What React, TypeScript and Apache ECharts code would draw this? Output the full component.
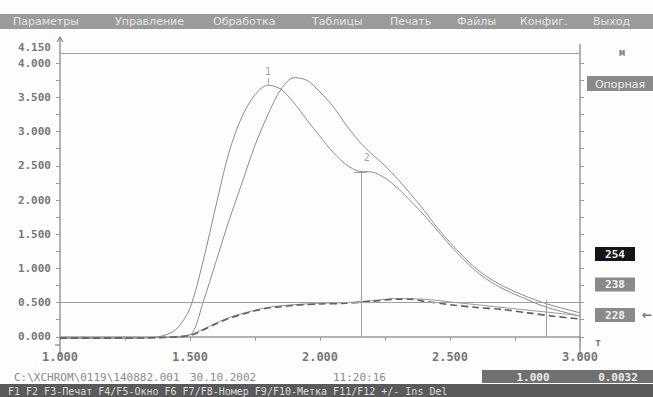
import React, { useEffect, useRef } from "react";
import * as echarts from "echarts";

// ---- data ----
const xTicks = [1.0, 1.5, 2.0, 2.5, 3.0];
const yLabelValues = [0, 0.5, 1.0, 1.5, 2.0, 2.5, 3.0, 3.5, 4.0];
const yTopLabel = [4.15];
const yTickValues = [0, 0.25, 0.5, 0.75, 1.0, 1.25, 1.5, 1.75, 2.0, 2.25, 2.5, 2.75, 3.0, 3.25, 3.5, 3.75, 4.0];
const xTickValues = [1.0, 1.25, 1.5, 1.75, 2.0, 2.25, 2.5, 2.75, 3.0];

const curve1: [number, number][] = [
  [1.0, -0.02], [1.2, -0.02], [1.35, -0.01], [1.4, 0.02], [1.45, 0.12], [1.5, 0.42], [1.55, 1.1],
  [1.6, 1.92], [1.65, 2.7], [1.7, 3.22], [1.75, 3.54], [1.8, 3.68], [1.85, 3.62], [1.9, 3.42],
  [1.95, 3.17], [2.0, 2.93], [2.05, 2.7], [2.1, 2.52], [2.15, 2.42], [2.2, 2.41], [2.25, 2.32],
  [2.3, 2.17], [2.35, 1.98], [2.4, 1.78], [2.45, 1.56], [2.5, 1.34], [2.55, 1.14], [2.6, 0.96],
  [2.65, 0.82], [2.7, 0.71], [2.75, 0.62], [2.8, 0.54], [2.85, 0.46], [2.9, 0.4], [2.95, 0.35], [3.0, 0.3],
];
const curve2: [number, number][] = [
  [1.0, -0.02], [1.2, -0.02], [1.4, -0.01], [1.47, 0.0], [1.51, 0.06], [1.55, 0.5], [1.6, 1.1],
  [1.65, 1.7], [1.7, 2.25], [1.75, 2.8], [1.8, 3.25], [1.85, 3.62], [1.9, 3.79], [1.95, 3.75],
  [2.0, 3.58], [2.05, 3.37], [2.1, 3.1], [2.15, 2.86], [2.2, 2.67], [2.25, 2.5], [2.3, 2.3],
  [2.35, 2.08], [2.4, 1.85], [2.45, 1.6], [2.5, 1.38], [2.55, 1.18], [2.6, 1.0], [2.65, 0.86],
  [2.7, 0.75], [2.75, 0.66], [2.8, 0.58], [2.85, 0.51], [2.9, 0.45], [2.95, 0.4], [3.0, 0.35],
];
const base1: [number, number][] = [
  [1.0, -0.02], [1.2, -0.02], [1.4, -0.01], [1.5, 0.02], [1.55, 0.1], [1.6, 0.19], [1.65, 0.27],
  [1.7, 0.33], [1.75, 0.38], [1.8, 0.42], [1.85, 0.44], [1.9, 0.46], [2.0, 0.48], [2.1, 0.49],
  [2.2, 0.52], [2.3, 0.55], [2.35, 0.55], [2.4, 0.52], [2.5, 0.47], [2.6, 0.43], [2.7, 0.4],
  [2.8, 0.35], [2.9, 0.3], [3.0, 0.26],
];
const base2: [number, number][] = [
  [1.0, -0.02], [1.4, -0.01], [1.5, 0.03], [1.55, 0.11], [1.6, 0.2], [1.65, 0.28], [1.7, 0.34],
  [1.8, 0.43], [1.9, 0.47], [2.0, 0.49], [2.1, 0.5], [2.2, 0.53], [2.3, 0.56], [2.4, 0.55],
  [2.5, 0.51], [2.6, 0.47], [2.7, 0.43], [2.8, 0.39], [2.9, 0.35], [3.0, 0.31],
];
const refLines = [0.5, 4.15];
const cursorX = [2.16, 2.87];
const cursorTop = [2.41, 0.54];
const peakLabels: [number, number, string][] = [[1.8, 3.88, "1"], [2.18, 2.62, "2"]];

const menuItems = ["Параметры", "Управление", "Обработка", "Таблицы", "Печать", "Файлы", "Конфиг.", "Выход"];
const menuX = [13, 115, 213, 312, 390, 457, 520, 593];
const sideValues = ["254", "238", "228"];

const MONO = "'DejaVu Sans Mono', monospace";

export default function App() {
  const ref = useRef<HTMLDivElement>(null);
  useEffect(() => {
    document.body.style.margin = "0";
    const chart = echarts.init(ref.current!, null, { renderer: "svg" });
    const lineColor = "#8c8c8c";
    const graphic: any[] = [
      { type: "rect", shape: { x: 0, y: 14, width: 653, height: 15 }, style: { fill: "#9b9b9b" }, z: -1 },
      ...menuItems.map((t, i) => ({
        type: "text", x: menuX[i], y: 21,
        style: { text: t, fill: "#e6e6e6", font: "11px 'DejaVu Sans'", verticalAlign: "middle" },
      })),
      // axis extensions
      { type: "line", shape: { x1: 60, y1: 38, x2: 60, y2: 53 }, style: { stroke: "#999", lineWidth: 1.5 } },
      { type: "line", shape: { x1: 60, y1: 345, x2: 60, y2: 356 }, style: { stroke: "#999", lineWidth: 1.5 } },
      { type: "polyline", shape: { points: [[57, 42], [60, 37], [63, 42]] }, style: { stroke: "#888", lineWidth: 1.2, fill: "none" } },
      { type: "line", shape: { x1: 580, y1: 44, x2: 580, y2: 53 }, style: { stroke: "#999", lineWidth: 1.5 } },
      { type: "line", shape: { x1: 580, y1: 345, x2: 580, y2: 356 }, style: { stroke: "#999", lineWidth: 1.5 } },
      { type: "line", shape: { x1: 55, y1: 345, x2: 60, y2: 345 }, style: { stroke: "#999", lineWidth: 1.5 } },
      { type: "text", x: 622, y: 52, style: { text: "м", fill: "#777", font: "bold 10px " + MONO, align: "center", verticalAlign: "middle" } },
      { type: "text", x: 598, y: 342, style: { text: "т", fill: "#777", font: "bold 10px " + MONO, align: "center", verticalAlign: "middle" } },
      { type: "rect", shape: { x: 587, y: 76, width: 66, height: 15 }, style: { fill: "#8a8a8a" } },
      { type: "text", x: 620, y: 84, style: { text: "Опорная", fill: "#eee", font: "11px 'DejaVu Sans'", align: "center", verticalAlign: "middle" } },
      ...sideValues.map((t, i) => [
        { type: "rect", shape: { x: 595, y: 247 + i * 30.5, width: 40, height: 14 }, style: { fill: i === 0 ? "#151515" : "#8a8a8a" } },
        { type: "text", x: 615, y: 254 + i * 30.5, style: { text: t, fill: "#f2f2f2", font: "bold 11px " + MONO, align: "center", verticalAlign: "middle" } },
      ]).flat(),
      { type: "text", x: 647, y: 315, style: { text: "←", fill: "#777", font: "bold 12px 'DejaVu Sans'", align: "center", verticalAlign: "middle" } },
      // status line
      { type: "text", x: 14, y: 377, style: { text: "C:\\XCHROM\\0119\\140882.001", fill: "#8a8a8a", font: "11px " + MONO, verticalAlign: "middle" } },
      { type: "text", x: 190, y: 377, style: { text: "30.10.2002", fill: "#8a8a8a", font: "11px " + MONO, verticalAlign: "middle" } },
      { type: "text", x: 333, y: 377, style: { text: "11:20:16", fill: "#8a8a8a", font: "11px " + MONO, verticalAlign: "middle" } },
      { type: "rect", shape: { x: 482, y: 370, width: 171, height: 13 }, style: { fill: "#707070" } },
      { type: "text", x: 533, y: 377, style: { text: "1.000", fill: "#eee", font: "bold 11px " + MONO, align: "center", verticalAlign: "middle" } },
      { type: "text", x: 618, y: 377, style: { text: "0.0032", fill: "#eee", font: "bold 11px " + MONO, align: "center", verticalAlign: "middle" } },
      { type: "rect", shape: { x: 0, y: 384, width: 653, height: 13 }, style: { fill: "#5a5a5a" } },
      { type: "text", x: 8, y: 391, style: { text: "F1 F2 F3-Печат F4/F5-Окно F6 F7/F8-Номер F9/F10-Метка F11/F12 +/- Ins Del", fill: "#dcdcdc", font: "10px " + MONO, verticalAlign: "middle" } },
    ];

    const straight = (data: [number, number][], color: string, width: number, type: any = "solid") => ({
      type: "line", data, smooth: 0.3, showSymbol: false, symbol: "none",
      lineStyle: { color, width, type }, silent: true,
    });

    const labelStyle = { formatter: (v: number) => v.toFixed(3), color: "#777", fontFamily: MONO, fontWeight: "bold", fontSize: 11, margin: 9 };

    chart.setOption({
      animation: false,
      backgroundColor: "#fdfdfd",
      grid: { left: 60, right: 73, top: 53, bottom: 52 },
      xAxis: {
        type: "value", min: 1, max: 3, interval: 0.5,
        axisLine: { show: true, lineStyle: { color: "#999", width: 1.5 } },
        axisTick: { show: true, customValues: xTickValues, length: 4, lineStyle: { color: "#999" } },
        axisLabel: { customValues: xTicks, formatter: (v: number) => v.toFixed(3), color: "#777", fontFamily: MONO, fontWeight: "bold", fontSize: 12, margin: 6 },
        splitLine: { show: false },
      },
      yAxis: [
        {
          type: "value", min: -0.12, max: 4.15, position: "left",
          axisLine: { show: true, onZero: false, lineStyle: { color: "#999", width: 1.5 } },
          axisTick: { show: true, customValues: yTickValues, length: 4, lineStyle: { color: "#999" } },
          axisLabel: { customValues: yLabelValues, showMaxLabel: true, ...labelStyle },
          splitLine: { show: false },
        },
        {
          type: "value", min: -0.12, max: 4.15, position: "right",
          axisLine: { show: true, onZero: false, lineStyle: { color: "#999", width: 1.5 } },
          axisTick: { show: true, customValues: yTickValues, length: 4, lineStyle: { color: "#999" } },
          axisLabel: { show: false },
          splitLine: { show: false },
        },
        {
          type: "value", min: -0.12, max: 4.15, position: "left",
          axisLine: { show: false }, axisTick: { show: false },
          axisLabel: { customValues: yTopLabel, showMaxLabel: true, ...labelStyle, verticalAlign: "bottom" },
          splitLine: { show: false },
        },
      ],
      graphic,
      series: [
        {
          ...straight(curve1, lineColor, 1),
          markLine: {
            silent: true, symbol: ["none", "none"], label: { show: false },
            lineStyle: { color: "#a0a0a0", width: 1, type: "solid" },
            data: [
              ...refLines.map((v) => ({ yAxis: v })),
              ...cursorX.map((x, i) => [{ coord: [x, -0.01] }, { coord: [x, cursorTop[i]] }]),
              [{ coord: [cursorX[0] - 0.03, cursorTop[0]] }, { coord: [cursorX[0] + 0.02, cursorTop[0]] }],
              [{ coord: [peakLabels[0][0], 3.7] }, { coord: [peakLabels[0][0], 3.78] }],
            ],
          },
        },
        straight(curve2, lineColor, 1),
        straight(base2, "#9a9a9a", 1),
        straight(base1, "#606060", 1.6, [7, 4]),
        {
          type: "scatter", data: peakLabels, symbolSize: 0, silent: true,
          label: { show: true, formatter: (p: any) => p.value[2], color: "#888", fontFamily: MONO, fontSize: 10, position: "inside" },
        },
      ],
    });
    return () => chart.dispose();
  }, []);
  return <div ref={ref} style={{ position: "absolute", left: 0, top: 0, width: 653, height: 397 }} />;
}
